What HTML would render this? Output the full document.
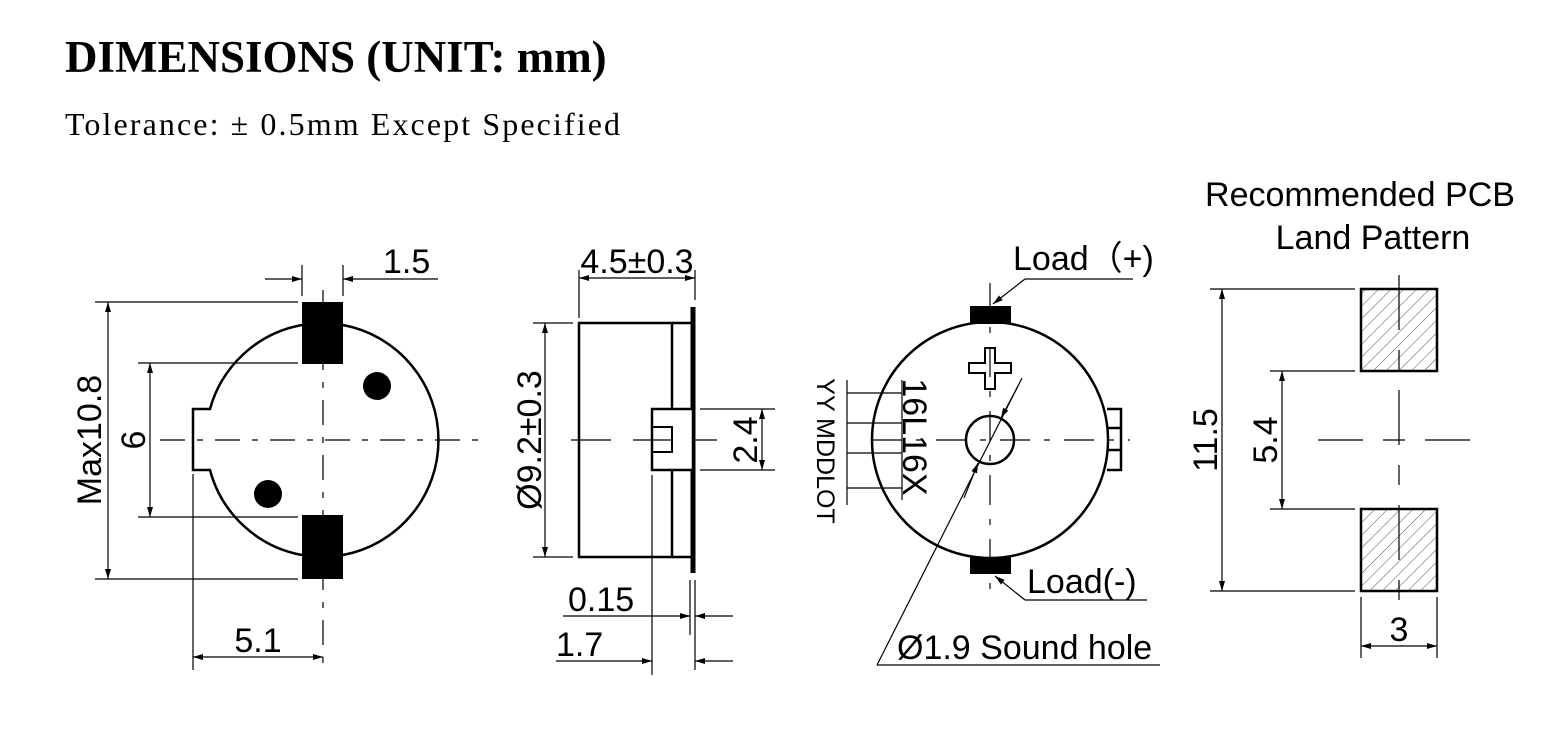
<!DOCTYPE html>
<html><head><meta charset="utf-8"><style>
html,body{margin:0;padding:0;background:#fff;}
svg{display:block;}
.t{font-family:"Liberation Sans",sans-serif;font-size:34px;fill:#000;}
</style></head><body>
<svg width="1566" height="753" viewBox="0 0 1566 753" xmlns="http://www.w3.org/2000/svg">
<defs>
<marker id="a" viewBox="0 0 10 6" refX="10" refY="3" markerWidth="11" markerHeight="6" orient="auto-start-reverse" markerUnits="userSpaceOnUse"><path d="M0,0 L10,3 L0,6 z" fill="#000"/></marker>
<pattern id="h" width="9" height="9" patternUnits="userSpaceOnUse" patternTransform="rotate(45)"><line x1="0" y1="0" x2="0" y2="9" stroke="#555" stroke-width="1"/></pattern>
</defs>
<text x="65" y="72" font-family="Liberation Serif,serif" font-weight="bold" font-size="45">DIMENSIONS (UNIT: mm)</text>
<text x="65" y="135" font-family="Liberation Serif,serif" font-size="32" textLength="555">Tolerance:  ± 0.5mm Except Specified</text>

<g stroke="#000" fill="none" stroke-width="1.2">
<!-- View 1 -->
<path d="M302,325 A117,117 0 0 0 210,409 L193,409 L193,470 L210,470 A117,117 0 0 0 302,555" stroke-width="2.5"/>
<path d="M343,325 A117,117 0 0 1 343,555" stroke-width="2.5"/>
<rect x="302" y="302" width="41" height="62" fill="#000" stroke="none"/>
<rect x="302" y="515" width="41" height="64" fill="#000" stroke="none"/>
<circle cx="377" cy="386" r="14" fill="#000" stroke="none"/>
<circle cx="268" cy="494" r="14" fill="#000" stroke="none"/>
<line x1="160" y1="440" x2="480" y2="440" stroke-dasharray="25,12,6,12"/>
<line x1="323" y1="290" x2="323" y2="672" stroke-dasharray="25,12,6,12"/>
<line x1="95" y1="302" x2="298" y2="302"/><line x1="95" y1="579" x2="298" y2="579"/>
<line x1="108" y1="302" x2="108" y2="579" marker-start="url(#a)" marker-end="url(#a)"/>
<line x1="138" y1="363" x2="298" y2="363"/><line x1="138" y1="517" x2="298" y2="517"/>
<line x1="150" y1="363" x2="150" y2="517" marker-start="url(#a)" marker-end="url(#a)"/>
<line x1="302" y1="265" x2="302" y2="296"/><line x1="343" y1="265" x2="343" y2="296"/>
<line x1="265" y1="279" x2="302" y2="279" marker-end="url(#a)"/>
<line x1="438" y1="279" x2="343" y2="279" marker-end="url(#a)"/>
<line x1="193" y1="474" x2="193" y2="670"/>
<line x1="193" y1="657" x2="323" y2="657" marker-start="url(#a)" marker-end="url(#a)"/>

<!-- View 2 -->
<rect x="579" y="323" width="93" height="234" stroke-width="2.5"/>
<line x1="672" y1="323" x2="693" y2="323" stroke-width="2.5"/>
<line x1="672" y1="557" x2="693" y2="557" stroke-width="2.5"/>
<line x1="693" y1="307" x2="693" y2="573" stroke-width="5"/>
<rect x="652" y="409" width="41" height="61" fill="#fff" stroke-width="2.5"/>
<rect x="652" y="427" width="20" height="25" stroke-width="2"/>
<line x1="571" y1="440" x2="717" y2="440" stroke-dasharray="40,22"/>
<line x1="579" y1="270" x2="579" y2="318"/><line x1="695" y1="270" x2="695" y2="300"/>
<line x1="579" y1="278" x2="695" y2="278" marker-start="url(#a)" marker-end="url(#a)"/>
<line x1="533" y1="323" x2="573" y2="323"/><line x1="533" y1="557" x2="573" y2="557"/>
<line x1="545" y1="323" x2="545" y2="557" marker-start="url(#a)" marker-end="url(#a)"/>
<line x1="700" y1="409" x2="775" y2="409"/><line x1="700" y1="470" x2="775" y2="470"/>
<line x1="762" y1="409" x2="762" y2="470" marker-start="url(#a)" marker-end="url(#a)"/>
<line x1="690" y1="580" x2="690" y2="635"/><line x1="695" y1="580" x2="695" y2="670"/>
<line x1="563" y1="616" x2="690" y2="616" marker-end="url(#a)"/>
<line x1="733" y1="616" x2="695" y2="616" marker-end="url(#a)"/>
<line x1="652" y1="475" x2="652" y2="675"/>
<line x1="556" y1="661" x2="652" y2="661" marker-end="url(#a)"/>
<line x1="733" y1="661" x2="695" y2="661" marker-end="url(#a)"/>

<!-- View 3 -->
<circle cx="990" cy="440" r="118" stroke-width="2.5"/>
<rect x="970" y="306" width="41" height="18" fill="#000" stroke="none"/>
<rect x="970" y="557" width="41" height="17" fill="#000" stroke="none"/>
<path d="M1107,409 H1121 V470 H1107 M1107,428 H1121 M1107,450 H1121" stroke-width="2.5"/>
<circle cx="990" cy="440" r="24" stroke-width="2.5"/>
<path d="M985,348 h10 v15 h16 v10 h-16 v16 h-10 v-16 h-16 v-10 h16 z" stroke-width="2"/>
<line x1="872" y1="440" x2="1130" y2="440" stroke-dasharray="30,14,6,14"/>
<line x1="990" y1="283" x2="990" y2="600" stroke-dasharray="30,14,6,14"/>
<line x1="877" y1="665" x2="1022" y2="378"/>
<line x1="1018" y1="386" x2="1001" y2="418" marker-end="url(#a)"/>
<line x1="964" y1="498" x2="978" y2="463" marker-end="url(#a)"/>
<line x1="877" y1="665" x2="1160" y2="665"/>
<line x1="1025" y1="279" x2="1133" y2="279"/>
<line x1="1025" y1="279" x2="993" y2="304" marker-end="url(#a)"/>
<line x1="1025" y1="600" x2="1147" y2="600"/>
<line x1="1025" y1="600" x2="995" y2="576" marker-end="url(#a)"/>
<line x1="847" y1="380" x2="847" y2="505"/>
<line x1="902" y1="380" x2="902" y2="500"/>
<line x1="847" y1="393" x2="902" y2="393"/>
<line x1="847" y1="423" x2="902" y2="423"/>
<line x1="847" y1="453" x2="902" y2="453"/>
<line x1="847" y1="488" x2="902" y2="488"/>

<!-- View 4 -->
<rect x="1361" y="289" width="76" height="82" fill="url(#h)" stroke-width="2.5"/>
<rect x="1361" y="509" width="76" height="82" fill="url(#h)" stroke-width="2.5"/>
<line x1="1318" y1="440" x2="1472" y2="440" stroke-dasharray="45,20,22,20"/>
<line x1="1399" y1="275" x2="1399" y2="605" stroke-dasharray="55,20,20,20"/>
<line x1="1210" y1="289" x2="1355" y2="289"/><line x1="1210" y1="591" x2="1355" y2="591"/>
<line x1="1222" y1="289" x2="1222" y2="591" marker-start="url(#a)" marker-end="url(#a)"/>
<line x1="1270" y1="371" x2="1355" y2="371"/><line x1="1270" y1="509" x2="1355" y2="509"/>
<line x1="1282" y1="371" x2="1282" y2="509" marker-start="url(#a)" marker-end="url(#a)"/>
<line x1="1361" y1="597" x2="1361" y2="658"/><line x1="1437" y1="597" x2="1437" y2="658"/>
<line x1="1361" y1="646" x2="1437" y2="646" marker-start="url(#a)" marker-end="url(#a)"/>
</g>

<!-- texts -->
<text class="t" x="383" y="273">1.5</text>
<text class="t" transform="translate(101,440) rotate(-90)" text-anchor="middle">Max10.8</text>
<text class="t" transform="translate(145,440) rotate(-90)" text-anchor="middle">6</text>
<text class="t" x="258" y="652" text-anchor="middle">5.1</text>
<text class="t" x="637" y="273" text-anchor="middle">4.5±0.3</text>
<text class="t" transform="translate(541,440) rotate(-90)" text-anchor="middle">Ø9.2±0.3</text>
<text class="t" transform="translate(757,440) rotate(-90)" text-anchor="middle">2.4</text>
<text class="t" x="568" y="611">0.15</text>
<text class="t" x="556" y="656">1.7</text>
<text class="t" x="1013" y="270">Load（+)</text>
<text class="t" x="1027" y="593">Load(-)</text>
<text class="t" x="897" y="659">Ø1.9 Sound hole</text>
<text class="t" transform="translate(903,437) rotate(90)" text-anchor="middle">16L16X</text>
<text class="t" style="font-size:25px" transform="translate(817,451) rotate(90)" text-anchor="middle">YY MDDLOT</text>
<text class="t" x="1360" y="206" text-anchor="middle">Recommended PCB</text>
<text class="t" x="1373" y="249" text-anchor="middle">Land Pattern</text>
<text class="t" transform="translate(1217,440) rotate(-90)" text-anchor="middle">11.5</text>
<text class="t" transform="translate(1277,440) rotate(-90)" text-anchor="middle">5.4</text>
<text class="t" x="1399" y="641" text-anchor="middle">3</text>
</svg>
</body></html>
